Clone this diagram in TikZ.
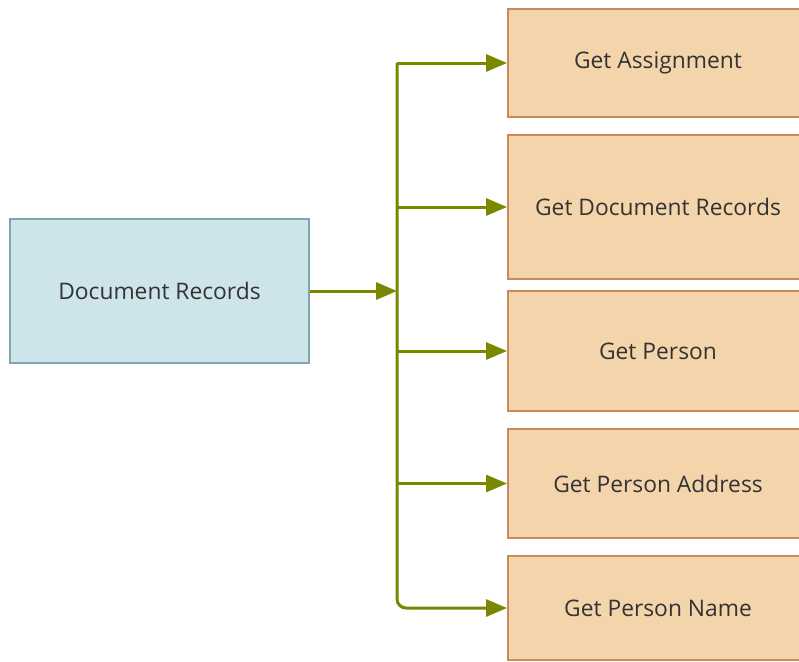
\documentclass[tikz,border=0pt]{standalone}
\usepackage{fontspec}
\setmainfont{Open Sans}
\usetikzlibrary{
    arrows.meta,
    positioning
}
\definecolor{recfill}{HTML}{CDE4EA}
\definecolor{recdraw}{HTML}{7FA6AF}
\definecolor{getfill}{HTML}{F3D4AB}
\definecolor{getdraw}{HTML}{C98A5C}
\definecolor{flowolive}{HTML}{7A8700}
\definecolor{labelgray}{HTML}{333333}

\begin{document}
\begin{tikzpicture}[
    x=1pt, y=-1pt,
    recordnode/.style = {rectangle, draw=recdraw, fill=recfill,
                         line width=2pt, anchor=north west,
                         text=labelgray,
                         font=\fontsize{22.8}{27}\selectfont},
    getnode/.style = {rectangle, draw=getdraw, fill=getfill,
                      line width=2pt, anchor=north west,
                      minimum width=300pt, text=labelgray,
                      font=\fontsize{22.8}{27}\selectfont},
    flowarrow/.style = {draw=flowolive, line width=3pt,
                        -{Triangle[length=21pt, width=17pt]}}
]
    \useasboundingbox (0,0) rectangle (799,661);

    \node[recordnode, minimum width=299pt, minimum height=144pt] (DR) at (9,218) {Document Records};

    \node[getnode, minimum height=108pt] (GA) at (507,8) {Get Assignment};
    \node[getnode, minimum height=144pt] (GD) at (507,134) {Get Document Records};
    \node[getnode, minimum height=120pt] (GP) at (507,290) {Get Person};
    \node[getnode, minimum height=109pt] (GPA) at (507,428) {Get Person Address};
    \node[getnode, minimum height=104pt] (GPN) at (507,555) {Get Person Name};

    \coordinate (trunkx) at (397,0);
    \coordinate (trunk) at (trunkx |- GA.west);
    \coordinate (join) at (trunkx |- DR.east);

    \draw[flowarrow] (DR.east) -- (join);
    \draw[flowarrow] (trunk) -- (GA.west);
    \draw[flowarrow, rounded corners=9pt] (trunk) |- (GPN.west);
    \draw[flowarrow] (GD.west -| trunk) -- (GD.west);
    \draw[flowarrow] (GP.west -| trunk) -- (GP.west);
    \draw[flowarrow] (GPA.west -| trunk) -- (GPA.west);

\end{tikzpicture}
\end{document}
